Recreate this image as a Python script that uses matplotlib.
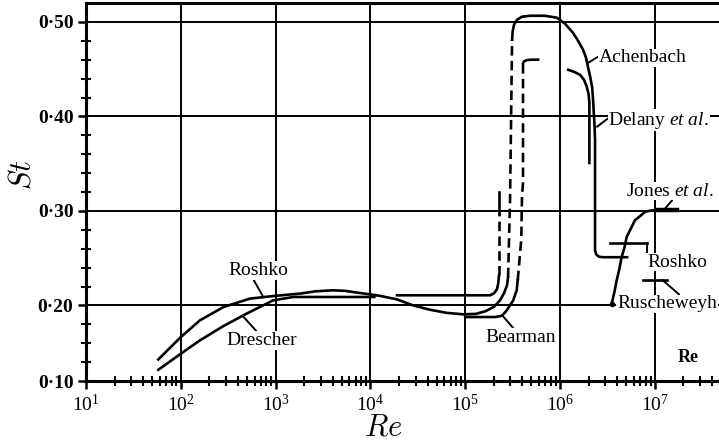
import numpy as np
import matplotlib
matplotlib.use('Agg')
from matplotlib import pyplot as plt
from matplotlib.ticker import FixedLocator, FuncFormatter, LogLocator, NullFormatter

plt.rcParams['font.family'] = ['Liberation Serif', 'DejaVu Serif']
plt.rcParams['mathtext.fontset'] = 'custom'
plt.rcParams['mathtext.rm'] = 'Liberation Serif'
plt.rcParams['mathtext.it'] = 'Liberation Serif:italic'
plt.rcParams['mathtext.bf'] = 'Liberation Serif:bold'

# --- data (Re, St) ---
# Roshko (upper low-Re curve) running on through the hump and the dip
roshko_re = [57.9, 100, 159, 281, 537, 940, 1.81e3, 2.65e3, 4.0e3, 5.4e3, 6.9e3, 9.9e3,
             1.26e4, 1.9e4, 2.8e4, 4.3e4, 6.4e4, 9.5e4, 1.3e5, 1.62e5, 2.01e5, 2.33e5,
             2.56e5, 2.76e5, 2.83e5]
roshko_st = [0.1285, 0.1581, 0.1802, 0.1978, 0.2072, 0.2099, 0.2125, 0.2149, 0.216, 0.2154,
             0.2138, 0.2117, 0.2101, 0.2064, 0.2001, 0.1941, 0.1901, 0.1882, 0.1888, 0.1921,
             0.1981, 0.2054, 0.2128, 0.2213, 0.2298]

drescher_re = [57.9, 100, 159, 281, 494, 946, 1.54e3, 1.1e4]
drescher_st = [0.1148, 0.1361, 0.1537, 0.1726, 0.1891, 0.2054, 0.2089, 0.2089]

rise_re = [2.83e5, 2.97e5, 3.12e5]
rise_st = [0.2298, 0.3113, 0.4811]

achenbach_re = [3.12e5, 3.16e5, 3.27e5, 3.52e5, 3.97e5, 4.83e5, 6.95e5, 9.3e5, 1.13e6,
                1.37e6, 1.55e6, 1.75e6, 1.88e6, 1.97e6, 2.07e6, 2.18e6, 2.23e6, 2.26e6,
                2.31e6, 2.34e6, 2.34e6, 2.40e6, 2.58e6, 2.84e6, 5.1e6]
achenbach_st = [0.4811, 0.4896, 0.497, 0.5023, 0.5055, 0.5065, 0.5065, 0.5044, 0.498,
                0.4885, 0.48, 0.4705, 0.462, 0.4525, 0.4429, 0.4313, 0.4175, 0.4069,
                0.391, 0.375, 0.2584, 0.2541, 0.2515, 0.251, 0.251]

flat_re = [1.91e4, 1.83e5, 2.01e5, 2.16e5, 2.23e5, 2.27e5]
flat_st = [0.2107, 0.2107, 0.2128, 0.217, 0.2234, 0.2319]
flat_rise_re = [2.27e5, 2.27e5]
flat_rise_st = [0.2319, 0.298]
flat_top_re = [2.27e5, 2.27e5]
flat_top_st = [0.298, 0.32]

bearman_re = [1.0e5, 2.06e5, 2.44e5, 2.74e5, 3.21e5, 3.49e5, 3.58e5]
bearman_st = [0.1846, 0.1846, 0.1862, 0.1934, 0.2054, 0.216, 0.2266]
bearman_rise_re = [3.58e5, 3.9e5, 3.97e5, 4.07e5, 4.07e5]
bearman_rise_st = [0.2266, 0.27, 0.315, 0.33, 0.456]
bearman_top_re = [4.07e5, 4.17e5, 4.49e5, 4.94e5, 5.87e5]
bearman_top_st = [0.456, 0.4583, 0.4596, 0.46, 0.46]

delany_re = [1.22e6, 1.41e6, 1.63e6, 1.79e6, 1.91e6, 2.0e6, 2.04e6, 2.04e6]
delany_st = [0.4493, 0.4471, 0.444, 0.4387, 0.4316, 0.4238, 0.4143, 0.3507]

jones_re = [3.51e6, 3.76e6, 3.96e6, 4.24e6, 4.47e6, 4.79e6, 5.05e6, 5.61e6, 6.18e6,
            6.98e6, 7.88e6, 8.9e6, 1.0e7, 1.71e7]
jones_st = [0.2019, 0.2149, 0.2266, 0.2393, 0.2513, 0.2616, 0.2725, 0.2817, 0.2902,
            0.2944, 0.299, 0.3002, 0.3008, 0.3008]
jones_thick_re = [1.05e7, 1.71e7]
jones_thick_st = [0.301, 0.301]

roshko_hi_re = [3.4e6, 8.3e6]
roshko_hi_st = [0.266, 0.266]

rusch_re = [7.5e6, 1.35e7]
rusch_st = [0.227, 0.227]

x_major = [1e1, 1e2, 1e3, 1e4, 1e5, 1e6, 1e7]
y_major = [0.10, 0.20, 0.30, 0.40, 0.50]
y_minor = [0.125, 0.15, 0.175, 0.22, 0.24, 0.26, 0.28, 0.32, 0.34, 0.36, 0.38,
           0.42, 0.44, 0.46, 0.48]


# the bottom band (0.10-0.20) is squeezed in the original
def fwd(y):
    y = np.asarray(y, float)
    return np.where(y >= 0.2, y, 0.2 - (0.2 - y) * 0.8)


def inv(t):
    t = np.asarray(t, float)
    return np.where(t >= 0.2, t, 0.2 - (0.2 - t) / 0.8)


fig = plt.figure(figsize=(7.19, 4.45), dpi=100)
ax = fig.add_axes([86 / 719, 64 / 445, 633 / 719, 378 / 445])
ax.set_xscale('log')
ax.set_yscale('function', functions=(fwd, inv))
ax.set_xlim(10, 4.75e7)
ax.set_ylim(0.10, 0.52)

lw = 1.9
dash = (3.6, 2.0)
k = 'black'
st = dict(color=k, lw=lw, solid_joinstyle='round')
ax.plot(roshko_re, roshko_st, **st)
ax.plot(drescher_re, drescher_st, **st)
ax.plot(rise_re, rise_st, dashes=dash, **st)
ax.plot(achenbach_re, achenbach_st, **st)
ax.plot(flat_re, flat_st, **st)
ax.plot(flat_rise_re, flat_rise_st, dashes=dash, **st)
ax.plot(flat_top_re, flat_top_st, **st)
ax.plot(bearman_re, bearman_st, **st)
ax.plot(bearman_rise_re, bearman_rise_st, dashes=dash, **st)
ax.plot(bearman_top_re, bearman_top_st, **st)
ax.plot(delany_re, delany_st, **st)
ax.plot(jones_re, jones_st, marker='o', ms=3, markevery=[0], **st)
ax.plot(jones_thick_re, jones_thick_st, color=k, lw=3.2)
ax.plot(roshko_hi_re, roshko_hi_st, **st)
ax.plot(rusch_re, rusch_st, **st)

# labels with pointer lines
box = dict(facecolor='white', edgecolor='none', pad=0.5)


def label(txt, xy, xytext, rel, ha='center'):
    ax.annotate(txt, xy=xy, xytext=xytext, fontsize=14, ha=ha, va='center', bbox=box,
                arrowprops=dict(arrowstyle='-', lw=1.4, color=k, shrinkA=0, shrinkB=0,
                                relpos=rel), zorder=5)


label('Roshko', (740, 0.209), (650, 0.237), (0.42, 0))
label('Drescher', (450, 0.186), (720, 0.1537), (0.43, 1))
label('Bearman', (2.45e5, 0.187), (3.88e5, 0.1576), (0.4, 1))
label('Achenbach', (1.93e6, 0.456), (7.5e6, 0.462), (0, 0.6))
label(r'Delany $\mathit{et\ al.}$', (2.45e6, 0.389), (1.1e7, 0.396), (0, 0.6))
label(r'Jones $\mathit{et\ al.}$', (1.22e7, 0.30), (1.45e7, 0.321), (0.53, 0))
label('Roshko', (8.3e6, 0.266), (1.71e7, 0.2457), (0, 1))
label('Ruscheweyh', (1.2e7, 0.227), (4.0e6, 0.2017), (0.63, 1), ha='left')
ax.text(2.24e7, 0.131, 'Re', fontsize=13, fontweight='bold', ha='center', va='center',
        bbox=box, zorder=5)

# axes, ticks, grid
ax.xaxis.set_major_locator(FixedLocator(x_major))
ax.xaxis.set_minor_locator(LogLocator(base=10, subs=np.arange(2, 10), numticks=12))
ax.xaxis.set_minor_formatter(NullFormatter())
ax.xaxis.set_major_formatter(FuncFormatter(
    lambda v, _: r'$\mathregular{10^{%d}}$' % round(np.log10(v))))
ax.yaxis.set_major_locator(FixedLocator(y_major))
ax.yaxis.set_minor_locator(FixedLocator(y_minor))
ax.yaxis.set_major_formatter(FuncFormatter(lambda v, _: f'{v:.2f}'.replace('.', '\u00b7')))

ax.tick_params(which='major', direction='out', length=6, width=1.8, labelsize=14, pad=3)
ax.tick_params(which='minor', direction='inout', length=7, width=1.5)
for t in ax.get_yticklabels():
    t.set_fontweight('bold')

ax.grid(True, which='major', color=k, lw=1.4)
ax.set_axisbelow(True)
ax.spines['right'].set_visible(False)
for s in ('left', 'bottom', 'top'):
    ax.spines[s].set_linewidth(2.2)

ax.set_xlabel('$Re$', fontsize=22, math_fontfamily='cm')
ax.set_ylabel('$St$', fontsize=22, math_fontfamily='cm')
ax.xaxis.set_label_coords(0.469, -0.085)
ax.yaxis.set_label_coords(-0.076, 0.545)

fig.savefig('out.png', dpi=100)
